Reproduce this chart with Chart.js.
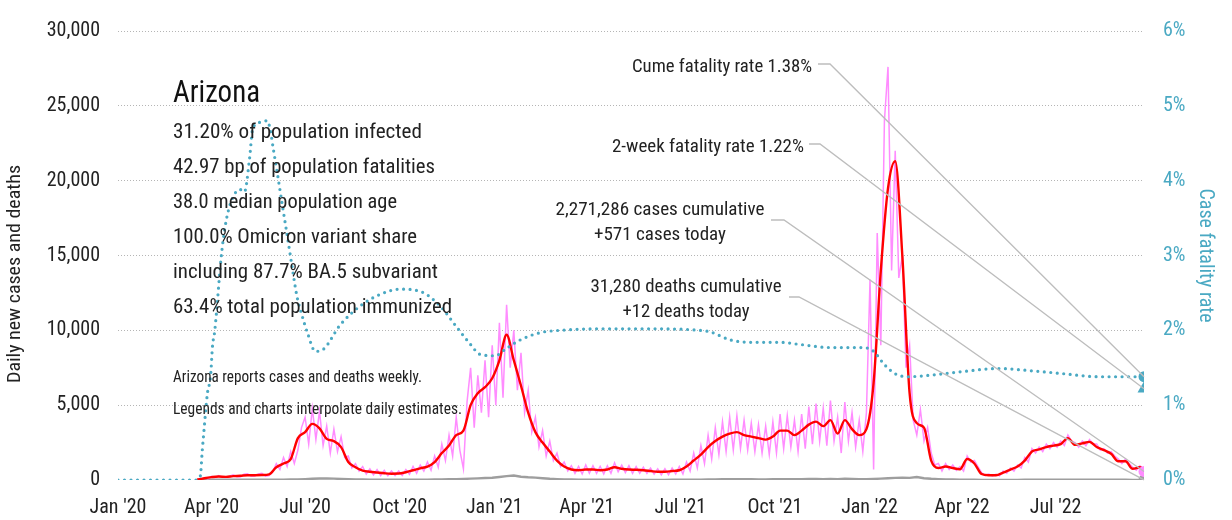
<!DOCTYPE html>
<html><head><meta charset="utf-8">
<script src="https://cdn.jsdelivr.net/npm/chart.js@4.4.1/dist/chart.umd.min.js"></script>
<style>html,body{margin:0;padding:0;background:#fff}#wrap{width:1232px;height:520px}</style>
</head><body><div id="wrap"><canvas id="c" width="1232" height="520"></canvas></div>
<script>
const FONT = "'Roboto Condensed', Roboto, sans-serif";

// x axis: days since 1 Jan 2020
const tickDays = [0, 91, 182, 274, 366, 456, 547, 639, 731, 821, 912];
const tickLabels = ["Jan '20", "Apr '20", "Jul '20", "Oct '20", "Jan '21", "Apr '21", "Jul '21", "Oct '21", "Jan '22", "Apr '22", "Jul '22"];
const lastDay = 998;

// 7-day average of new cases, one value per week (day = 7 * index)
const avgCases = [
  null, null, null, null, null, null, null, null, null, null, null,
  20, 120, 190, 230, 210, 260, 280, 320, 320, 330,
  380, 850, 1100, 1400, 2800, 3200, 3750, 3450, 2750, 2600,
  2200, 1200, 850, 620, 550, 500, 450, 420, 430, 520,
  650, 780, 900, 1200, 1800, 2300, 3000, 3300, 5000, 5800,
  6200, 6800, 8000, 9700, 8000, 6300, 4500, 3200, 2500, 1900,
  1300, 900, 700, 650, 700, 700, 650, 700, 850, 750,
  700, 680, 650, 600, 550, 550, 600, 650, 900, 1300,
  1700, 2200, 2600, 2900, 3100, 3200, 3000, 2900, 2800, 2700,
  2900, 3300, 3300, 3000, 3300, 3700, 3900, 3600, 4000, 3100,
  4000, 3400, 3000, 3400, 6500, 14000, 19500, 21300, 14900, 5800,
  3800, 3500, 1300, 800, 900, 800, 720, 1400, 1100, 400,
  320, 320, 500, 700, 900, 1300, 1900, 2050, 2200, 2300,
  2400, 2800, 2350, 2450, 2550, 2200, 2000, 1750, 1250, 1250,
  750, 850
];
const avgCasesLast = 650;

// daily new cases, two readings per week (day = 3.5 * index)
const dailyCases = [
  null, null, null, null, null, null, null, null, null, null, null, null, null, null, null, null, null, null, null, null, null, null,
  30, 60, 150, 90, 250, 150, 300, 180, 170, 250,
  350, 220, 200, 380, 420, 250, 260, 400, 450, 250,
  300, 550, 1100, 700, 1500, 900, 1900, 1100, 2000, 3500,
  4200, 2400, 4800, 2700, 4600, 2300, 3600, 1800, 3400, 1900,
  2900, 1500, 1600, 800, 1100, 600, 900, 400, 750, 350,
  700, 300, 650, 280, 600, 300, 600, 300, 700, 380,
  900, 450, 1000, 600, 1200, 650, 1600, 850, 2400, 1300,
  3000, 1600, 4200, 2000, 750, 5200, 7500, 3500, 7000, 4500,
  8000, 4200, 9000, 5000, 10500, 5500, 11700, 7500, 10000, 6000,
  8500, 4500, 6000, 3200, 4200, 2200, 3300, 1600, 2600, 1300,
  1800, 900, 1200, 600, 950, 450, 900, 400, 1000, 450,
  950, 450, 900, 400, 950, 450, 1150, 550, 1000, 500,
  950, 450, 900, 450, 850, 450, 800, 400, 750, 350,
  750, 350, 800, 400, 900, 400, 1200, 600, 1800, 800,
  2300, 1100, 3000, 1400, 3500, 1700, 3900, 1900, 4200, 2000,
  4300, 2100, 4000, 2000, 3800, 1900, 3700, 1800, 3600, 1700,
  3900, 1800, 4400, 2100, 4300, 2200, 4000, 1900, 4400, 2100,
  4900, 2400, 5100, 2600, 4800, 2300, 5300, 2600, 4200, 1800,
  5200, 2600, 4500, 2200, 4000, 1900, 4500, 13400, 700, 16500,
  9000, 24000, 27600, 14000, 22000, 13500, 15000, 7500, 9000, 4000,
  3000, 4700, 2600, 3500, 1800, 1000, 1100, 600, 1100, 700,
  1000, 650, 900, 600, 1600, 1200, 1300, 900, 500, 300,
  400, 280, 380, 280, 600, 450, 800, 600, 1000, 800,
  1500, 1200, 2100, 1800, 2200, 1900, 2400, 2100, 2500, 2200,
  2600, 2300, 3000, 2600, 2500, 2200, 2600, 2300, 2700, 2400,
  2400, 2000, 2100, 1800, 1900, 1600, 1400, 1100, 1400, 1100,
  850, 650, 950, 750
];
const lastCases = 571;

// daily deaths, one value per week (day = 7 * index)
const dailyDeaths = [
  null, null, null, null, null, null, null, null, null, null, null,
  2, 8, 15, 20, 20, 25, 20, 20, 20, 15,
  20, 20, 25, 30, 40, 60, 80, 100, 110, 90,
  70, 60, 40, 30, 25, 20, 15, 15, 15, 15,
  20, 20, 25, 30, 40, 50, 60, 70, 90, 110,
  130, 150, 200, 260, 300, 220, 180, 160, 120, 80,
  60, 40, 30, 25, 20, 15, 15, 15, 15, 12,
  12, 10, 10, 10, 10, 10, 12, 12, 15, 20,
  25, 35, 45, 50, 60, 60, 55, 50, 45, 45,
  50, 60, 60, 55, 60, 70, 70, 60, 70, 60,
  80, 70, 60, 60, 70, 90, 120, 140, 150, 140,
  200, 120, 80, 60, 40, 30, 20, 15, 15, 10,
  10, 10, 10, 10, 10, 12, 15, 15, 20, 20,
  20, 20, 20, 20, 20, 15, 15, 15, 12, 12,
  10, 10
];
const lastDeaths = 12;

// case fatality rate (%), right axis
const cfrDays = [0, 75, 80, 82, 83, 87, 90, 92, 94, 101, 107, 119, 123, 128, 131, 138, 145, 148, 151, 155,
  160, 164, 169, 174, 179, 184, 192, 200, 216, 236, 255, 274, 294, 313, 328, 343, 352, 367, 377, 391,
  411, 430, 469, 518, 566, 576, 596, 615, 644, 664, 693, 725, 735, 745, 756, 768, 790, 822, 856, 888,
  920, 953, 998];
const cfrValues = [0, 0, 0.05, 0.4, 0.56, 1.16, 1.38, 1.8, 1.98, 3.06, 3.58, 3.88, 3.85, 4.3, 4.69, 4.78, 4.80, 4.69, 4.43, 4.10,
  3.66, 3.32, 2.88, 2.46, 2.20, 1.98, 1.72, 1.75, 2.07, 2.33, 2.48, 2.55, 2.52, 2.33, 2.07, 1.81, 1.68, 1.66, 1.75, 1.87,
  1.97, 2.0, 2.02, 2.02, 2.0, 1.98, 1.87, 1.84, 1.84, 1.81, 1.77, 1.77, 1.72, 1.55, 1.42, 1.38, 1.40, 1.45, 1.49, 1.46,
  1.42, 1.38, 1.38];
const cumeCfr = 1.38;
const twoWeekCfr = 1.22;

const stateName = 'Arizona';
const statLines = [
  '31.20% of population infected',
  '42.97 bp of population fatalities',
  '38.0 median population age',
  '100.0% Omicron variant share',
  'including 87.7% BA.5 subvariant',
  '63.4% total population immunized'
];
const noteLines = ['Arizona reports cases and deaths weekly.', 'Legends and charts interpolate daily estimates.'];
const cumeLabel = 'Cume fatality rate 1.38%';
const twoWeekLabel = '2-week fatality rate 1.22%';
const casesLabel = ['2,271,286 cases cumulative', '+571 cases today'];
const deathsLabel = ['31,280 deaths cumulative', '+12 deaths today'];
const yTitle = 'Daily new cases and deaths';
const y2Title = 'Case fatality rate';

const TEAL = '#4aa9c3';
const PINK = '#ff8cff';
const RED = '#ff0000';
const GRAY = '#9e9e9e';
const TEXT = '#222222';

const weekly = (arr, last) => { const p = arr.map((v, i) => ({x: i * 7, y: v})); p.push({x: lastDay, y: last}); return p; };
const halfWeekly = (arr, last) => { const p = arr.map((v, i) => ({x: i * 3.5, y: v})); p.push({x: lastDay, y: last}); return p; };

// draws text with a given font size, squeezed horizontally to the width it has in the reference
function fitText(ctx, text, x, y, size, width, align) {
  ctx.font = `${size}px ${FONT}`;
  const s = width / ctx.measureText(text).width;
  ctx.save();
  ctx.translate(x, y);
  ctx.scale(s, 1);
  ctx.textAlign = align;
  ctx.fillText(text, 0, 0);
  ctx.restore();
}

const overlay = {
  id: 'overlay',
  afterDatasetsDraw(chart) {
    const {ctx, scales: {x, y, y2}} = chart;
    const ex = x.getPixelForValue(lastDay);
    ctx.save();
    ctx.strokeStyle = '#bdbdbd';
    ctx.lineWidth = 1.3;
    const conns = [
      [818, 64, 830, ex, y2.getPixelForValue(cumeCfr)],
      [809, 144, 820, ex, y2.getPixelForValue(twoWeekCfr)],
      [771, 220, 784, ex, y.getPixelForValue(lastCases)],
      [789, 297, 799, ex, y.getPixelForValue(lastDeaths)]
    ];
    conns.forEach(c => {
      ctx.beginPath(); ctx.moveTo(c[0], c[1]); ctx.lineTo(c[2], c[1]); ctx.lineTo(c[3], c[4]); ctx.stroke();
    });
    ctx.fillStyle = TEXT;
    ctx.textBaseline = 'alphabetic';
    fitText(ctx, cumeLabel, 812, 72, 19, 180, 'right');
    fitText(ctx, twoWeekLabel, 804, 152, 19, 192, 'right');
    fitText(ctx, casesLabel[0], 660, 215, 19, 209, 'center');
    fitText(ctx, casesLabel[1], 660, 240, 19, 132, 'center');
    fitText(ctx, deathsLabel[0], 686, 292, 19, 191, 'center');
    fitText(ctx, deathsLabel[1], 686, 317, 19, 127, 'center');
    // state block
    ctx.fillStyle = '#111';
    fitText(ctx, stateName, 173, 102, 32, 87, 'left');
    ctx.fillStyle = TEXT;
    const statWidths = [249, 262, 224, 244, 265, 279];
    statLines.forEach((t, i) => fitText(ctx, t, 173, 138 + i * 35, 21, statWidths[i], 'left'));
    const noteWidths = [249, 289];
    noteLines.forEach((t, i) => fitText(ctx, t, 173, 382 + i * 32, 17, noteWidths[i], 'left'));
    // left axis title
    ctx.save();
    ctx.translate(15, 274);
    ctx.rotate(-Math.PI / 2);
    ctx.textBaseline = 'middle';
    fitText(ctx, yTitle, 0, 0, 19, 218, 'center');
    ctx.restore();
    ctx.restore();
  }
};

new Chart(document.getElementById('c'), {
  type: 'line',
  data: {
    datasets: [
      {label: 'Cume CFR end', data: [{x: lastDay, y: cumeCfr}], yAxisID: 'y2', showLine: false,
       pointRadius: 5.5, pointBackgroundColor: TEAL, pointBorderWidth: 0, order: 0},
      {label: '2-week CFR end', data: [{x: lastDay, y: twoWeekCfr}], yAxisID: 'y2', showLine: false,
       pointStyle: 'triangle', pointRadius: 7.5, pointBackgroundColor: TEAL, pointBorderWidth: 0, order: 0},
      {label: 'Cases end', data: [{x: lastDay, y: lastCases}], yAxisID: 'y', showLine: false,
       pointRadius: 5.5, pointBackgroundColor: PINK, pointBorderWidth: 0, order: 0},
      {label: 'Deaths end', data: [{x: lastDay, y: lastDeaths}], yAxisID: 'y', showLine: false,
       pointRadius: 5.5, pointBackgroundColor: GRAY, pointBorderWidth: 0, order: 0},
      {label: 'Case fatality rate', data: cfrDays.map((d, i) => ({x: d, y: cfrValues[i]})), yAxisID: 'y2',
       borderColor: TEAL, borderWidth: 3.2, borderDash: [0, 6.5], borderCapStyle: 'round',
       pointRadius: 0, cubicInterpolationMode: 'monotone', order: 1},
      {label: '7-day average', data: weekly(avgCases, avgCasesLast), yAxisID: 'y',
       borderColor: RED, borderWidth: 2.4, pointRadius: 0, cubicInterpolationMode: 'monotone', order: 2},
      {label: 'Daily cases', data: halfWeekly(dailyCases, lastCases), yAxisID: 'y',
       borderColor: PINK, borderWidth: 1.5, pointRadius: 0, tension: 0, order: 3},
      {label: 'Daily deaths', data: weekly(dailyDeaths, lastDeaths), yAxisID: 'y',
       borderColor: GRAY, borderWidth: 2.4, pointRadius: 0, tension: 0, order: 4}
    ]
  },
  options: {
    responsive: false,
    animation: false,
    layout: {padding: {top: 16, left: 0, right: 0, bottom: 0}},
    plugins: {legend: {display: false}, tooltip: {enabled: false}},
    elements: {line: {fill: false}},
    scales: {
      x: {
        type: 'linear', position: 'bottom', min: 0, max: lastDay,
        grid: {display: false}, border: {display: false},
        afterBuildTicks: s => { s.ticks = tickDays.map(v => ({value: v})); },
        afterFit: s => { s.height = 40; },
        ticks: {
          autoSkip: false, maxRotation: 0, padding: 8, color: TEXT,
          font: {family: FONT, size: 20},
          callback: v => tickLabels[tickDays.indexOf(v)]
        }
      },
      y: {
        position: 'left', min: 0, max: 30000,
        afterFit: s => { s.width = 118; },
        border: {display: false, dash: [1, 2]},
        grid: {color: c => c.tick.value === 0 ? 'rgba(0,0,0,0)' : '#b5b5b5', lineWidth: 1, drawTicks: false},
        ticks: {stepSize: 5000, padding: 18, color: TEXT, font: {family: FONT, size: 20},
                callback: v => v.toLocaleString('en-US')}
      },
      y2: {
        position: 'right', min: 0, max: 6,
        afterFit: s => { s.width = 88; },
        border: {display: false},
        grid: {drawOnChartArea: false, drawTicks: false},
        ticks: {stepSize: 1, padding: 19, color: TEAL, font: {family: FONT, size: 20}, callback: v => v + '%'},
        title: {display: true, text: y2Title, color: TEAL, font: {family: FONT, size: 20}, padding: {top: 15, bottom: 0}}
      }
    }
  },
  plugins: [overlay]
});
</script>
</body></html>
